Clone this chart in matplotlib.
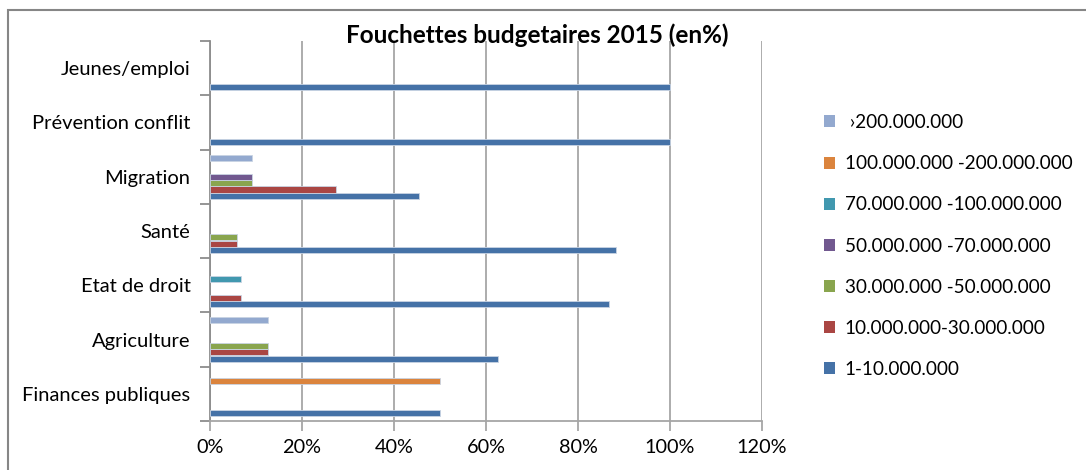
import numpy as np
import matplotlib.pyplot as plt
from matplotlib.patches import Rectangle
from matplotlib.ticker import FuncFormatter

# categories, bottom to top
categories = ['Finances publiques', 'Agriculture', 'Etat de droit', 'Santé',
              'Migration', 'Prévention conflit', 'Jeunes/emploi']

# budget brackets (series), in drawing order inside each group (bottom -> top)
series_names = ['1-10.000.000', '10.000.000-30.000.000', '30.000.000 -50.000.000',
                '50.000.000 -70.000.000', '70.000.000 -100.000.000',
                '100.000.000 -200.000.000', ' \u203a200.000.000']

s_1_10 = [50.0, 62.5, 86.7, 88.2, 45.5, 100.0, 100.0]
s_10_30 = [0, 12.5, 6.7, 5.9, 27.3, 0, 0]
s_30_50 = [0, 12.5, 0, 5.9, 9.1, 0, 0]
s_50_70 = [0, 0, 0, 0, 9.1, 0, 0]
s_70_100 = [0, 0, 6.7, 0, 0, 0, 0]
s_100_200 = [50.0, 0, 0, 0, 0, 0, 0]
s_200 = [0, 12.5, 0, 0, 9.1, 0, 0]

values = [s_1_10, s_10_30, s_30_50, s_50_70, s_70_100, s_100_200, s_200]
colors = ['#4572A7', '#AA4643', '#89A54E', '#71588F', '#4198AF', '#DB843D', '#93A9CF']

plt.rcParams['font.family'] = ['Lato', 'DejaVu Sans']

fig = plt.figure(figsize=(10.86, 4.70), dpi=100)
ax = fig.add_axes([210 / 1086, 1 - 421 / 470, 552 / 1086, 380 / 470])

n = len(series_names)
w = 1.0 / (n + 1.5)
y0 = np.arange(len(categories))
for j, (name, vals) in enumerate(zip(series_names, values)):
    vals = np.array(vals, dtype=float)
    ypos = y0 + 0.75 * w + (j + 0.5) * w
    lw = np.where(vals > 0, 0.6, 0.0)
    ax.barh(ypos, vals, height=w * 0.95, color=colors[j], label=name,
            edgecolor='#c9d4e3', linewidth=lw, zorder=3)

ax.set_xlim(0, 120)
ax.set_ylim(0, len(categories))
ax.set_xticks(np.arange(0, 121, 20))
ax.xaxis.set_major_formatter(FuncFormatter(lambda v, p: f'{int(v)}%'))
ax.grid(axis='x', color='#a6a6a6', linewidth=1.3, zorder=0)

# category boundaries as ticks, labels at centres
ax.set_yticks(np.arange(len(categories) + 1))
ax.set_yticklabels([])
ax.set_yticks(y0 + 0.5, minor=True)
ax.set_yticklabels(categories, minor=True)
ax.tick_params(axis='y', which='major', length=7, color='#8c8c8c', width=1.3)
ax.tick_params(axis='y', which='minor', length=0, pad=14, labelsize=14.5)
ax.tick_params(axis='x', length=7, color='#a6a6a6', width=1.3, labelsize=14.3, pad=6)

for side in ['top', 'right']:
    ax.spines[side].set_visible(False)
ax.spines['left'].set_color('#8c8c8c')
ax.spines['left'].set_linewidth(1.3)
ax.spines['bottom'].set_color('#a6a6a6')
ax.spines['bottom'].set_linewidth(1.3)

fig.text(537 / 1086, 1 - 35 / 470, 'Fouchettes budgetaires 2015 (en%)',
         ha='center', va='center', fontsize=17.5, fontweight='bold')

handles, labels = ax.get_legend_handles_labels()
leg = fig.legend(handles[::-1], labels[::-1], loc='upper left',
                 bbox_to_anchor=(807 / 1086, 1 - 97 / 470), frameon=False,
                 fontsize=13.6, handlelength=0.6, handleheight=0.6,
                 handletextpad=0.5, labelspacing=1.28)
for h in leg.legend_handles:
    h.set_edgecolor('none')

# chart frame (cut by the image edge on right and bottom)
fig.patches.append(Rectangle((8 / 1086, -0.1), 1.2, 1 - 10 / 470 + 0.1,
                             transform=fig.transFigure, fill=False,
                             edgecolor='#868686', linewidth=1.5))

plt.savefig('out.png', dpi=100)
